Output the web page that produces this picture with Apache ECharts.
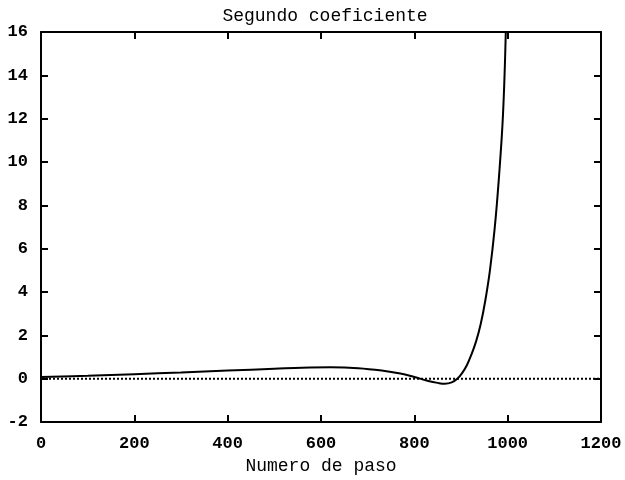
<!DOCTYPE html>
<html>
<head>
<meta charset="utf-8">
<script src="https://cdn.jsdelivr.net/npm/echarts@6/dist/echarts.min.js"></script>
<style>
  html, body { margin: 0; padding: 0; background: #fff; }
  #main { width: 625px; height: 480px; }
</style>
</head>
<body>
<div id="main"></div>
<script>
// x values (Numero de paso) and the curve
var steps = [0, 100, 200, 300, 400, 500, 560, 620, 680, 730, 770, 800, 830, 850, 865,
             880, 892, 902, 912, 922, 932, 942, 952, 962, 972, 981, 990, 996];
var coef  = [0.08, 0.14, 0.21, 0.29, 0.38, 0.46, 0.51, 0.53, 0.49, 0.38, 0.24, 0.08, -0.1, -0.19, -0.23,
             -0.17, 0.0, 0.25, 0.6, 1.1, 1.7, 2.5, 3.6, 5.0, 6.9, 9.2, 12.2, 16.0];
var zeroX = [0, 1200];
var zeroY = [0, 0];

var xTicks = { min: 0, max: 1200, interval: 200 };
var yTicks = { min: -2, max: 16, interval: 2 };

var chartDom = document.getElementById('main');
var myChart = echarts.init(chartDom);

var mono = 'Liberation Mono';
var axisLine = { show: true, onZero: false, lineStyle: { color: '#000', width: 2 } };
var tick = { show: true, inside: true, length: 7, lineStyle: { color: '#000', width: 2 } };

var option = {
    backgroundColor: '#fff',
    animation: false,
    title: {
        text: 'Segundo coeficiente',
        left: 320,
        top: 2,
        textAlign: 'center',
        textStyle: { fontFamily: mono, fontSize: 18, fontWeight: 'normal', color: '#000' }
    },
    grid: { left: 41, right: 24, top: 32, bottom: 51 },
    xAxis: [
        {
            type: 'value',
            min: xTicks.min, max: xTicks.max, interval: xTicks.interval,
            name: 'Numero de paso',
            nameLocation: 'middle',
            nameGap: 31,
            nameTextStyle: { fontFamily: mono, fontSize: 18, color: '#000' },
            axisLine: axisLine,
            axisTick: tick,
            splitLine: { show: false },
            axisLabel: {
                fontFamily: mono, fontSize: 17, fontWeight: 'bold', color: '#000', margin: 13,
                formatter: function (v) { return String(v); }
            }
        },
        {
            type: 'value', position: 'top',
            min: xTicks.min, max: xTicks.max, interval: xTicks.interval,
            axisLine: axisLine, axisTick: tick,
            splitLine: { show: false }, axisLabel: { show: false }
        }
    ],
    yAxis: [
        {
            type: 'value',
            min: yTicks.min, max: yTicks.max, interval: yTicks.interval,
            axisLine: axisLine,
            axisTick: tick,
            splitLine: { show: false },
            axisLabel: { fontFamily: mono, fontSize: 17, fontWeight: 'bold', color: '#000', margin: 13 }
        },
        {
            type: 'value', position: 'right',
            min: yTicks.min, max: yTicks.max, interval: yTicks.interval,
            axisLine: axisLine, axisTick: tick,
            splitLine: { show: false }, axisLabel: { show: false }
        }
    ],
    series: [
        {
            name: 'cero',
            type: 'line',
            data: zeroX.map(function (x, i) { return [x, zeroY[i]]; }),
            symbol: 'none',
            lineStyle: { color: '#000', width: 2, type: [2, 2] }
        },
        {
            name: 'coeficiente',
            type: 'line',
            data: steps.map(function (x, i) { return [x, coef[i]]; }),
            smooth: 0.4,
            symbol: 'none',
            clip: true,
            lineStyle: { color: '#000', width: 2 }
        }
    ]
};
option && myChart.setOption(option);
</script>
</body>
</html>
